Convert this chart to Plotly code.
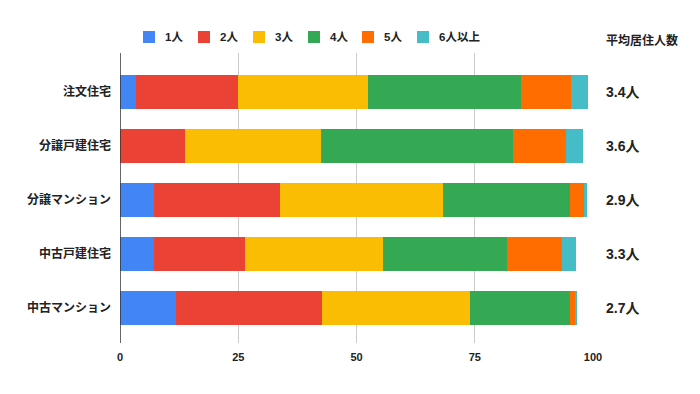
import plotly.graph_objects as go

categories = ["注文住宅", "分譲戸建住宅", "分譲マンション", "中古戸建住宅", "中古マンション"]
series_names = ["1人", "2人", "3人", "4人", "5人", "6人以上"]
v1 = [3.3, 0.0, 7.1, 7.1, 11.8]
v2 = [21.6, 13.8, 26.7, 19.4, 31.0]
v3 = [27.5, 28.7, 34.4, 29.1, 31.2]
v4 = [32.3, 40.5, 26.9, 26.2, 21.1]
v5 = [10.6, 11.2, 3.1, 11.6, 1.3]
v6 = [3.7, 3.6, 0.6, 2.9, 0.3]
averages = ["3.4人", "3.6人", "2.9人", "3.3人", "2.7人"]
avg_title = "平均居住人数"
x_ticks = [0, 25, 50, 75, 100]

colors = ["#4285F4", "#EA4335", "#FBBC04", "#34A853", "#FF6D01", "#46BDC6"]
FONT = "Arial, Liberation Sans, Noto Sans CJK JP, sans-serif"

# page body has an 8px default margin; compensate
OFF = 8
W, H = 700 - OFF, 394 - OFF
L, R, T, B = 120 - OFF, 593 - OFF, 53 - OFF, 343 - OFF


def px_x(px):
    return (px - OFF - L) / (R - L)


def px_y(py):
    return (B - (py - OFF)) / (B - T)


fig = go.Figure()
for name, vals, c in zip(series_names, [v1, v2, v3, v4, v5, v6], colors):
    fig.add_trace(go.Bar(
        y=categories, x=vals, name=name, orientation="h",
        marker=dict(color=c, line=dict(width=0)),
        showlegend=False,
    ))

# custom legend (positions in reference-image pixels)
legend_sq_px = [143, 198, 253, 308, 362, 417]
sq = 12
ly = 37
for name, c, sx in zip(series_names, colors, legend_sq_px):
    fig.add_shape(type="rect", xref="paper", yref="paper",
                  x0=px_x(sx), x1=px_x(sx + sq), y0=px_y(ly + sq / 2), y1=px_y(ly - sq / 2),
                  fillcolor=c, line=dict(width=0))
    fig.add_annotation(x=px_x(sx + sq + 8), xref="paper", xanchor="left",
                       y=px_y(ly), yref="paper", yanchor="middle",
                       text="<b>" + name + "</b>", showarrow=False,
                       font=dict(size=11.5, color="#222222", family=FONT))

for cat, a in zip(categories, averages):
    fig.add_annotation(x=1.0, xref="paper", xanchor="left", xshift=11,
                       y=cat, yref="y", text="<b>" + a + "</b>", showarrow=False,
                       font=dict(size=14, color="#222222", family=FONT))
fig.add_annotation(x=px_x(642), xref="paper", xanchor="center",
                   y=px_y(40), yref="paper", yanchor="middle",
                   text="<b>" + avg_title + "</b>", showarrow=False,
                   font=dict(size=12, color="#222222", family=FONT))

fig.update_layout(
    width=W, height=H,
    barmode="stack", bargap=0.375,
    plot_bgcolor="white", paper_bgcolor="white",
    margin=dict(l=L, r=W - R, t=T, b=H - B, autoexpand=False),
    font=dict(family=FONT, color="#222222"),
    showlegend=False,
    xaxis=dict(range=[0, 100], tickvals=x_ticks, ticktext=["<b>%d</b>" % t for t in x_ticks],
               showgrid=True, gridcolor="#cccccc", gridwidth=1, zeroline=False,
               showline=False, ticks="", automargin=False, ticklabelstandoff=6,
               tickfont=dict(size=11, color="#222222", family=FONT)),
    yaxis=dict(categoryorder="array", categoryarray=categories, autorange=False,
               range=[4.65, -0.72], showgrid=False, zeroline=False,
               showline=False, ticks="", automargin=False, ticklabelstandoff=8,
               tickvals=categories, ticktext=["<b>" + c + "</b>" for c in categories],
               tickfont=dict(size=12, color="#222222", family=FONT)),
)
fig.add_shape(type="line", xref="x", yref="paper", x0=0, x1=0, y0=0, y1=1,
              line=dict(color="#333333", width=1.5))

fig.write_html("out.html")
